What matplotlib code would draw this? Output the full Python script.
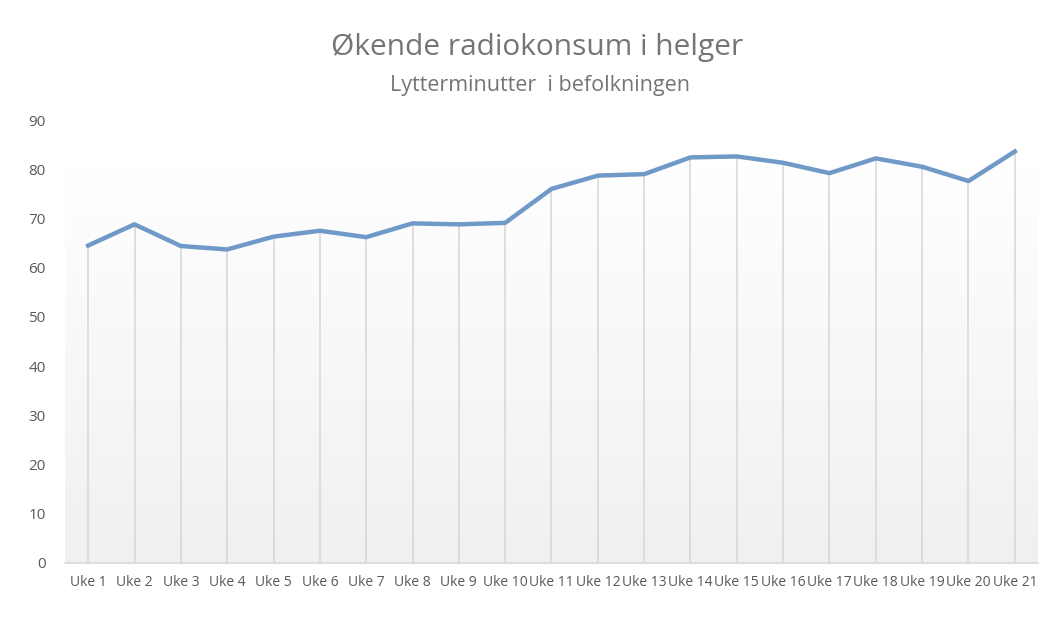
import matplotlib
matplotlib.use("Agg")
import matplotlib.pyplot as plt
import numpy as np
from matplotlib.colors import LinearSegmentedColormap

weeks = [f"Uke {i}" for i in range(1, 22)]
minutes = [64.5, 68.8, 64.4, 63.7, 66.3, 67.5, 66.2, 69.0, 68.8, 69.1,
           76.0, 78.7, 79.0, 82.4, 82.6, 81.3, 79.2, 82.2, 80.5, 77.6, 83.6]
yticks = list(range(0, 100, 10))

plt.rcParams['font.family'] = ['Open Sans', 'DejaVu Sans']

fig = plt.figure(figsize=(10.58, 6.28), dpi=100)
ax = fig.add_axes([65/1058, 1-563/628, (1038-65)/1058, (563-120)/628])

x = np.arange(len(weeks))
# gradient background
grad = np.linspace(0, 1, 256).reshape(-1, 1)
cmap = LinearSegmentedColormap.from_list("g", ["#f0f0f0", "#ffffff"])
ax.imshow(grad, aspect='auto', cmap=cmap, origin='lower',
          extent=[-0.5, len(weeks)-0.5, 0, 81], zorder=0)

ax.vlines(x, 0, minutes, colors="#d9d9d9", linewidth=1.2, zorder=1)
ax.plot(x, minutes, color="#6f9ac8", linewidth=3.2, solid_joinstyle='round', zorder=3)

ax.set_xlim(-0.5, len(weeks)-0.5)
ax.set_ylim(0, 90)
ax.set_yticks(yticks)
ax.set_xticks(x)
ax.set_xticklabels(weeks)
for s in ['top', 'right', 'left']:
    ax.spines[s].set_visible(False)
ax.spines['bottom'].set_color("#d9d9d9")
ax.spines['bottom'].set_linewidth(1.2)
ax.tick_params(axis='both', length=0, colors="#595959", labelsize=10)
ax.tick_params(axis='y', pad=14, labelsize=11)
ax.tick_params(axis='x', pad=9)
ax.set_facecolor("white")

fig.text(537/1058, 1-48/628, "Økende radiokonsum i helger", ha='center', va='center',
         fontsize=21.5, color="#757575")
fig.text(540/1058, 1-85/628, "Lytterminutter  i befolkningen", ha='center', va='center',
         fontsize=15.5, color="#757575")

fig.savefig("out.png", dpi=100)
